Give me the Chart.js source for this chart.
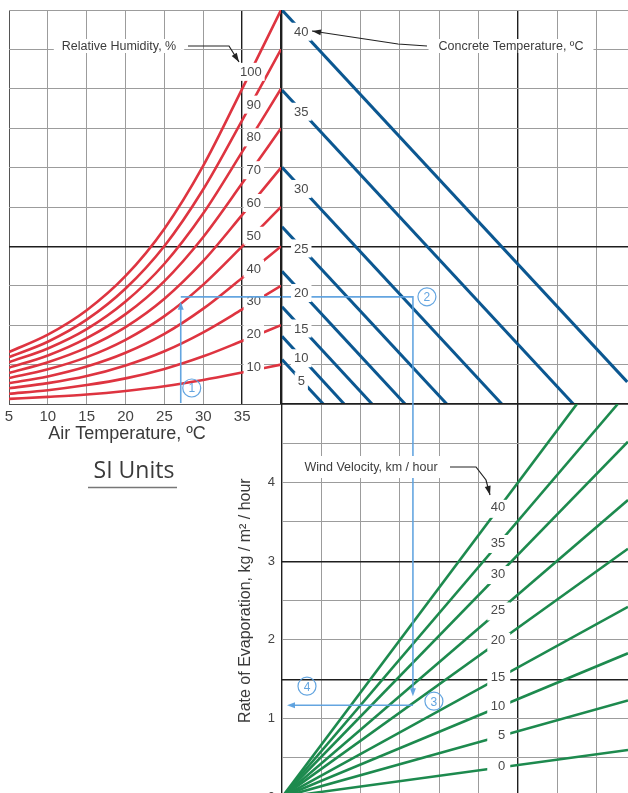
<!DOCTYPE html>
<html>
<head>
<meta charset="utf-8">
<script src="https://cdn.jsdelivr.net/npm/chart.js@4/dist/chart.umd.min.js"></script>
<style>
  html, body { margin: 0; padding: 0; background: #fff; overflow: hidden; width: 628px; height: 793px; }
  canvas { position: absolute; left: 0; top: 0; }
</style>
</head>
<body>
<canvas id="humidity" width="628" height="793"></canvas>
<canvas id="concrete" width="628" height="793"></canvas>
<canvas id="wind" width="628" height="812"></canvas>
<script>
// ---- Air temperature / relative humidity panel ----
// vapour pressure is plotted in grid divisions (0 = bottom of the upper panels, 10 = top)
const airTemps = [5, 10, 15, 20, 25, 30, 35, 40];
const airTempTicks = [5, 10, 15, 20, 25, 30, 35];
const humidityLevels = [10, 20, 30, 40, 50, 60, 70, 80, 90, 100];
const vp10  = [0.13, 0.18, 0.24, 0.33, 0.45, 0.61, 0.80, 1.00];
const vp20  = [0.26, 0.35, 0.48, 0.65, 0.89, 1.21, 1.60, 2.00];
const vp30  = [0.40, 0.53, 0.71, 0.98, 1.34, 1.82, 2.40, 3.00];
const vp40  = [0.53, 0.70, 0.95, 1.30, 1.78, 2.42, 3.20, 4.00];
const vp50  = [0.66, 0.88, 1.19, 1.63, 2.23, 3.03, 4.00, 5.00];
const vp60  = [0.79, 1.06, 1.43, 1.95, 2.67, 3.63, 4.80, 6.00];
const vp70  = [0.92, 1.23, 1.67, 2.28, 3.12, 4.24, 5.60, 7.00];
const vp80  = [1.06, 1.41, 1.90, 2.60, 3.56, 4.84, 6.40, 8.00];
const vp90  = [1.19, 1.58, 2.14, 2.93, 4.01, 5.45, 7.20, 9.00];
const vp100 = [1.32, 1.76, 2.38, 3.25, 4.45, 6.05, 8.00, 10.00];
const humiditySeries = [vp10, vp20, vp30, vp40, vp50, vp60, vp70, vp80, vp90, vp100];

// ---- Concrete temperature panel (horizontal = vapour pressure difference, grid divisions) ----
const concreteTemps   = [5, 10, 15, 20, 25, 30, 35, 40];
const concreteStartVP = [1.13, 1.72, 2.47, 3.37, 4.50, 6.01, 7.97, 10.00];
const concreteEndX    = [1.05, 1.58, 2.29, 3.13, 4.19, 5.59, 7.41, 8.78];
const concreteEndVP   = [0, 0, 0, 0, 0, 0, 0, 0.56];

// ---- Wind velocity panel (rate of evaporation, kg / m² / hour) ----
const windSpeeds   = [0, 5, 10, 15, 20, 25, 30, 35, 40];
const windEndX     = [8.8, 8.8, 8.8, 8.8, 8.8, 8.8, 8.8, 8.54, 7.5];
const windEndRate  = [0.60, 1.23, 1.83, 2.42, 3.16, 3.78, 4.52, 5.00, 5.00];
const rateTicks    = [0, 1, 2, 3, 4];

// ---- Worked example: 27 °C air, ~50 % RH, 20 km/h wind ----
const exampleAirTemp = 27.1;
const exampleVP      = 2.72;
const exampleDiff    = 3.33;
const exampleRate    = 1.17;

const RED = '#de3440';
const BLUE = '#0b5791';
const GREEN = '#1d8a4e';
const GUIDE = 'rgba(92,160,222,0.95)';
const GRID = '#9c9c9c';
const DARK = '#1e1e1e';
const TEXT = '#3c3c3c';
const FONT = '"Liberation Sans", Arial, sans-serif';

function boxText(ctx, text, cx, cy, size, color, padX, boxH) {
  ctx.save();
  ctx.font = size + 'px ' + FONT;
  const w = ctx.measureText(text).width;
  const bw = w + padX * 2;
  const left = cx - bw / 2;
  ctx.fillStyle = '#fff';
  ctx.fillRect(left, cy - boxH / 2, bw, boxH);
  ctx.fillStyle = color;
  ctx.textAlign = 'center';
  ctx.textBaseline = 'middle';
  ctx.fillText(text, cx, cy + 0.5);
  ctx.restore();
}

function arrowHead(ctx, x, y, ang, len, wid, color) {
  ctx.save();
  ctx.translate(x, y);
  ctx.rotate(ang);
  ctx.beginPath();
  ctx.moveTo(0, 0);
  ctx.lineTo(-len, -wid / 2);
  ctx.lineTo(-len, wid / 2);
  ctx.closePath();
  ctx.fillStyle = color;
  ctx.fill();
  ctx.restore();
}

function leader(ctx, pts, color) {
  ctx.save();
  ctx.strokeStyle = color;
  ctx.lineWidth = 1.2;
  ctx.beginPath();
  ctx.moveTo(pts[0][0], pts[0][1]);
  for (let i = 1; i < pts.length; i++) ctx.lineTo(pts[i][0], pts[i][1]);
  ctx.stroke();
  const a = pts[pts.length - 2], b = pts[pts.length - 1];
  arrowHead(ctx, b[0], b[1], Math.atan2(b[1] - a[1], b[0] - a[0]), 9, 6, color);
  ctx.restore();
}

function guideLine(ctx, pts) {
  ctx.save();
  ctx.strokeStyle = GUIDE;
  ctx.lineWidth = 1.6;
  ctx.beginPath();
  ctx.moveTo(pts[0][0], pts[0][1]);
  for (let i = 1; i < pts.length; i++) ctx.lineTo(pts[i][0], pts[i][1]);
  ctx.stroke();
  ctx.restore();
}

function stepCircle(ctx, n, x, y) {
  ctx.save();
  ctx.strokeStyle = GUIDE;
  ctx.lineWidth = 1.2;
  ctx.beginPath();
  ctx.arc(x, y, 9, 0, Math.PI * 2);
  ctx.stroke();
  ctx.fillStyle = GUIDE;
  ctx.font = '12px ' + FONT;
  ctx.textAlign = 'center';
  ctx.textBaseline = 'middle';
  ctx.fillText(String(n), x, y + 1);
  ctx.restore();
}

function gridStyle(darkValues, mediumValues) {
  return {
    drawTicks: false,
    color: c => darkValues.includes(c.tick.value) ? DARK : (mediumValues.includes(c.tick.value) ? '#555' : GRID),
    lineWidth: c => darkValues.includes(c.tick.value) ? 1.4 : 1
  };
}

const common = {
  responsive: false,
  animation: false,
  devicePixelRatio: 1,
  events: [],
  plugins: { legend: { display: false }, tooltip: { enabled: false } }
};

// ---------- upper-left: relative humidity curves ----------
new Chart(document.getElementById('humidity'), {
  type: 'line',
  data: {
    datasets: humiditySeries.map((vals, i) => ({
      label: humidityLevels[i] + ' %',
      data: airTemps.map((t, j) => ({ x: t, y: vals[j] })),
      borderColor: RED,
      borderWidth: 2.6,
      pointRadius: 0,
      cubicInterpolationMode: 'monotone',
      fill: false
    }))
  },
  options: Object.assign({}, common, {
    layout: { padding: { left: 9, top: 10, right: 347, bottom: 349 } },
    scales: {
      x: {
        type: 'linear', min: 5, max: 40,
        ticks: { stepSize: 5, autoSkip: false, maxRotation: 0, padding: 4,
                 color: '#444', font: { family: FONT, size: 15 },
                 callback: v => airTempTicks.includes(v) ? String(v) : '' },
        grid: gridStyle([40, 35], [5]),
        border: { display: false },
        afterFit: s => { s.height = 40; }
      },
      y: {
        type: 'linear', min: 0, max: 10,
        ticks: { stepSize: 1, display: false },
        grid: gridStyle([4], [0]),
        border: { display: false },
        afterFit: s => { s.width = 0; }
      }
    }
  }),
  plugins: [{
    id: 'humidityNotes',
    afterDatasetsDraw(chart) {
      const { ctx, scales: { x, y } } = chart;
      // curve labels, sitting in a break of each curve just right of 35 °C
      humiditySeries.forEach((vals, i) => {
        const v = vals[6] * 1.04 + 0.11;
        const txt = String(humidityLevels[i]);
        boxText(ctx, txt, x.getPixelForValue(36.5) + (txt.length > 2 ? -3 : 0), y.getPixelForValue(v), 13, '#4a4a4a', 3, 18);
      });
      // series caption
      boxText(ctx, 'Relative Humidity, %', 119, 46, 12.5, TEXT, 8, 14);
      leader(ctx, [[188, 46], [229, 46], [239, 62]], '#222');
      // worked example, step 1
      const gx = x.getPixelForValue(exampleAirTemp);
      const gy = y.getPixelForValue(exampleVP);
      guideLine(ctx, [[gx, y.getPixelForValue(0) - 1], [gx, gy + 9]]);
      arrowHead(ctx, gx, gy + 5, -Math.PI / 2, 8, 6, GUIDE);
      guideLine(ctx, [[gx, gy], [x.right + 1, gy]]);
      stepCircle(ctx, 1, gx + 11, 388);
      // axis title and unit system note
      ctx.save();
      ctx.fillStyle = '#3a3a3a';
      ctx.font = '18px ' + FONT;
      ctx.textAlign = 'center';
      ctx.textBaseline = 'middle';
      ctx.fillText('Air Temperature, ºC', 127, 434);
      ctx.font = '23px "Open Sans", ' + FONT;
      ctx.fillText('SI Units', 134, 471);
      ctx.strokeStyle = '#777';
      ctx.lineWidth = 1.5;
      ctx.beginPath();
      ctx.moveTo(88, 487.5);
      ctx.lineTo(177, 487.5);
      ctx.stroke();
      ctx.restore();
    }
  }]
});

// ---------- upper-right: concrete temperature lines ----------
new Chart(document.getElementById('concrete'), {
  type: 'line',
  data: {
    datasets: concreteTemps.map((t, i) => ({
      label: t + ' ºC',
      data: [{ x: 0, y: concreteStartVP[i] }, { x: concreteEndX[i], y: concreteEndVP[i] }],
      borderColor: BLUE,
      borderWidth: 3,
      pointRadius: 0,
      fill: false
    }))
  },
  options: Object.assign({}, common, {
    layout: { padding: { left: 282, top: 10, right: 0, bottom: 389 } },
    scales: {
      x: {
        type: 'linear', min: 0, max: 8.8,
        ticks: { stepSize: 1, display: false, includeBounds: false },
        grid: gridStyle([0, 6], []),
        border: { display: false },
        afterFit: s => { s.height = 0; }
      },
      y: {
        type: 'linear', min: 0, max: 10,
        ticks: { stepSize: 1, display: false },
        grid: gridStyle([0, 4], []),
        border: { display: false },
        afterFit: s => { s.width = 0; }
      }
    }
  }),
  plugins: [{
    id: 'concreteNotes',
    afterDatasetsDraw(chart) {
      const { ctx, scales: { x, y } } = chart;
      // worked example, step 2
      const gy = y.getPixelForValue(exampleVP);
      const gx = x.getPixelForValue(exampleDiff);
      guideLine(ctx, [[x.left, gy], [gx, gy], [gx, y.bottom + 1]]);
      stepCircle(ctx, 2, gx + 14, gy);
      // line labels, each in a break of its line
      const lx = x.getPixelForValue(0.49);
      concreteTemps.forEach((t, i) => {
        const x0 = x.getPixelForValue(0), y0 = y.getPixelForValue(concreteStartVP[i]);
        const x1 = x.getPixelForValue(concreteEndX[i]), y1 = y.getPixelForValue(concreteEndVP[i]);
        const py = y0 + (y1 - y0) * (lx - x0) / (x1 - x0);
        boxText(ctx, String(t), lx, py + 1, 13, '#4a4a4a', 3, 18);
      });
      // series caption
      boxText(ctx, 'Concrete Temperature, ºC', 511, 46, 12.5, TEXT, 10, 14);
      leader(ctx, [[427, 46], [398, 44], [312, 31]], '#222');
    }
  }]
});

// ---------- lower-right: wind velocity lines ----------
new Chart(document.getElementById('wind'), {
  type: 'line',
  data: {
    datasets: windSpeeds.map((w, i) => ({
      label: w + ' km/h',
      data: [{ x: 0, y: 0 }, { x: windEndX[i], y: windEndRate[i] }],
      borderColor: GREEN,
      borderWidth: 2.6,
      pointRadius: 0,
      fill: false
    }))
  },
  options: Object.assign({}, common, {
    layout: { padding: { left: 232, top: 404, right: 0, bottom: 3 } },
    scales: {
      x: {
        type: 'linear', min: 0, max: 8.8,
        ticks: { stepSize: 1, display: false, includeBounds: false },
        grid: gridStyle([0, 6], []),
        border: { display: false },
        afterFit: s => { s.height = 0; }
      },
      y: {
        type: 'linear', min: 0, max: 5,
        ticks: { stepSize: 0.5, padding: 7, color: '#444', font: { family: FONT, size: 13 },
                 callback: v => rateTicks.includes(v) ? String(v) : '' },
        grid: gridStyle([1.5, 3, 5], []),
        border: { display: false },
        title: { display: true, text: 'Rate of Evaporation, kg / m² / hour', color: '#3a3a3a',
                 font: { family: FONT, size: 16 }, padding: { top: 4, bottom: 0 } },
        afterFit: s => { s.width = 50; }
      }
    }
  }),
  plugins: [{
    id: 'windNotes',
    afterDatasetsDraw(chart) {
      const { ctx, scales: { x, y } } = chart;
      // worked example, steps 3 and 4
      const gx = x.getPixelForValue(exampleDiff);
      const gy = y.getPixelForValue(exampleRate);
      guideLine(ctx, [[gx, y.top - 1], [gx, gy - 16]]);
      arrowHead(ctx, gx, gy - 9, Math.PI / 2, 8, 6, GUIDE);
      guideLine(ctx, [[gx, gy], [x.left + 10, gy]]);
      arrowHead(ctx, x.left + 5, gy, Math.PI, 8, 6, GUIDE);
      stepCircle(ctx, 3, gx + 21, gy - 4);
      stepCircle(ctx, 4, x.left + 25, gy - 19);
      // line labels, each in a break of its line
      const lx = x.getPixelForValue(5.5);
      windSpeeds.forEach((w, i) => {
        const x0 = x.getPixelForValue(0), y0 = y.getPixelForValue(0);
        const x1 = x.getPixelForValue(windEndX[i]), y1 = y.getPixelForValue(windEndRate[i]);
        const py = y0 + (y1 - y0) * (lx - x0) / (x1 - x0);
        ctx.save();
        ctx.fillStyle = '#fff';
        ctx.fillRect(lx - 11, py - 9, 23, 18);
        ctx.fillStyle = '#4a4a4a';
        ctx.font = '13px ' + FONT;
        ctx.textAlign = 'right';
        ctx.textBaseline = 'middle';
        ctx.fillText(String(w), lx + 7, py - 1);
        ctx.restore();
      });
      // series caption
      boxText(ctx, 'Wind Velocity, km / hour', 371, 467, 12.5, TEXT, 6, 22);
      leader(ctx, [[450, 467], [476, 467], [486, 480], [490, 495]], '#222');
    }
  }]
});
</script>
</body>
</html>
